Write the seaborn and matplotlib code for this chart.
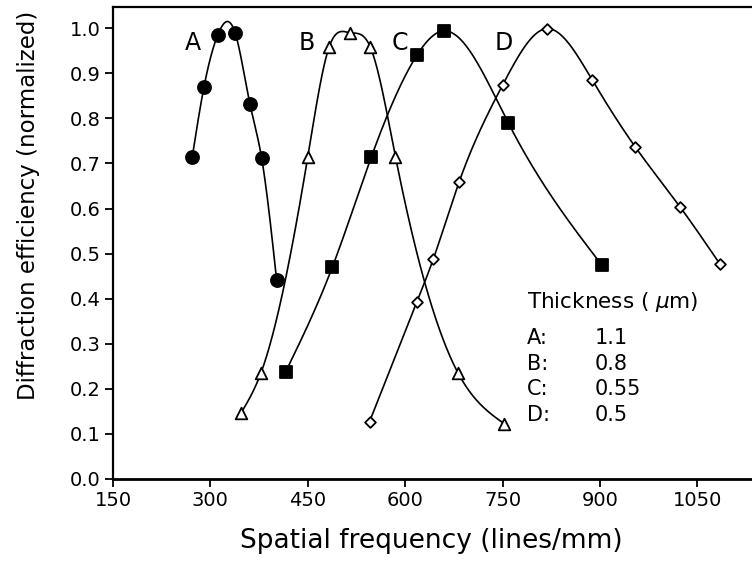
# Diffraction efficiency vs spatial frequency for four film thicknesses
import numpy as np
import pandas as pd
import matplotlib
matplotlib.use('Agg')
import matplotlib.pyplot as plt
import seaborn as sns

# values
freq_a = [272, 290, 311, 338, 361, 379, 402]
eff_a = [0.714, 0.869, 0.984, 0.990, 0.831, 0.711, 0.441]
freq_b = [347, 378, 450, 483, 515, 546, 585, 681, 752]
eff_b = [0.146, 0.236, 0.715, 0.959, 0.990, 0.959, 0.715, 0.236, 0.123]
freq_c = [416, 488, 548, 618, 659, 759, 903]
eff_c = [0.238, 0.471, 0.715, 0.940, 0.994, 0.789, 0.474]
freq_d = [545, 618, 643, 683, 750, 818, 888, 954, 1023, 1084]
eff_d = [0.127, 0.393, 0.487, 0.659, 0.874, 0.999, 0.885, 0.737, 0.604, 0.478]

curve_names = ['A', 'B', 'C', 'D']
thickness = ['1.1', '0.8', '0.55', '0.5']
x_ticks = [150, 300, 450, 600, 750, 900, 1050]
y_ticks = [0.0, 0.1, 0.2, 0.3, 0.4, 0.5, 0.6, 0.7, 0.8, 0.9, 1.0]


def natural_spline(x, y, num=400):
    # smooth line through the measured points (natural cubic spline)
    x = np.asarray(x, float)
    y = np.asarray(y, float)
    n = len(x)
    h = np.diff(x)
    A = np.zeros((n, n))
    r = np.zeros(n)
    A[0, 0] = 1
    A[-1, -1] = 1
    for i in range(1, n - 1):
        A[i, i - 1] = h[i - 1]
        A[i, i] = 2 * (h[i - 1] + h[i])
        A[i, i + 1] = h[i]
        r[i] = 6 * ((y[i + 1] - y[i]) / h[i] - (y[i] - y[i - 1]) / h[i - 1])
    M = np.linalg.solve(A, r)
    xs = np.linspace(x[0], x[-1], num)
    k = np.clip(np.searchsorted(x, xs) - 1, 0, n - 2)
    hk = h[k]
    ys = (M[k] * (x[k + 1] - xs) ** 3 / (6 * hk) + M[k + 1] * (xs - x[k]) ** 3 / (6 * hk)
          + (y[k] / hk - M[k] * hk / 6) * (x[k + 1] - xs)
          + (y[k + 1] / hk - M[k + 1] * hk / 6) * (xs - x[k]))
    return xs, ys


sns.set_style('ticks', rc={'axes.edgecolor': 'black', 'text.color': 'black',
                           'xtick.color': 'black', 'ytick.color': 'black',
                           'axes.labelcolor': 'black'})
plt.rcParams['font.family'] = ['DejaVu Sans']
plt.rcParams['mathtext.fontset'] = 'dejavusans'

fig = plt.figure(figsize=(7.52, 5.65), dpi=100)
ax = fig.add_axes([113 / 752, 1 - 479 / 565, 1 - 113 / 752, (479 - 7) / 565])

series = [(freq_a, eff_a, 'o', 'black', 88),
          (freq_b, eff_b, '^', 'white', 70),
          (freq_c, eff_c, 's', 'black', 80),
          (freq_d, eff_d, 'D', 'white', 30)]

for fx, fy, mk, fc, sz in series:
    xs, ys = natural_spline(fx, fy)
    ax.plot(xs, ys, color='black', lw=1.2, zorder=2)
    df = pd.DataFrame({'freq': fx, 'eff': fy})
    sns.scatterplot(data=df, x='freq', y='eff', marker=mk, s=sz, color=fc,
                    edgecolor='black', linewidth=1.3, zorder=3, ax=ax)

# curve letters
letter_x = [273, 448, 592, 752]
for name, lx in zip(curve_names, letter_x):
    ax.text(lx, 0.967, name, fontsize=17, ha='center', va='center')

# thickness table
ax.text(788, 0.392, 'Thickness ( $\\mu$m)', fontsize=15.5, ha='left', va='center')
row_y = [0.313, 0.256, 0.199, 0.142]
for name, t, ry in zip(curve_names, thickness, row_y):
    ax.text(788, ry, name + ':', fontsize=15, ha='left', va='center')
    ax.text(891, ry, t, fontsize=15, ha='left', va='center')

ax.set_xlim(150, 1134)
ax.set_ylim(0, 1.047)
ax.set_xticks(x_ticks)
ax.set_yticks(y_ticks)
ax.set_yticklabels(['%.1f' % v for v in y_ticks])
ax.tick_params(axis='both', direction='out', length=6, width=1.3, labelsize=14, pad=3)

ax.set_xlabel('Spatial frequency (lines/mm)', fontsize=19, va='center')
ax.set_ylabel('Diffraction efficiency (normalized)', fontsize=16.5, va='center')
ax.xaxis.set_label_coords(0.498, -0.131)
ax.yaxis.set_label_coords(-0.133, 0.58)

ax.spines['right'].set_visible(False)
for s in ['left', 'top']:
    ax.spines[s].set_linewidth(1.6)
ax.spines['bottom'].set_linewidth(2.0)

fig.savefig('out.png', dpi=100)
